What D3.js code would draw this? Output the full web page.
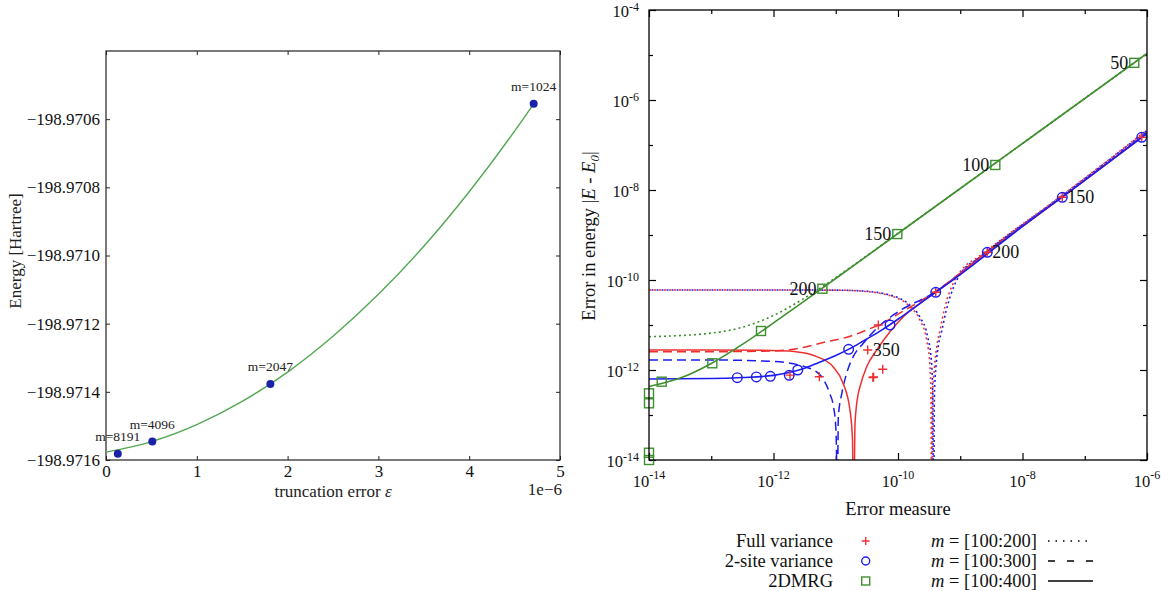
<!DOCTYPE html>
<html><head><meta charset="utf-8">
<script src="https://cdn.jsdelivr.net/npm/d3@7"></script>
<style>
html,body{margin:0;padding:0;background:#fff;}
svg{display:block;font-family:"Liberation Serif","Times New Roman",serif;}
</style></head><body>
<svg id="chart" width="1176" height="591"></svg>
<script>
// ================= LEFT PANEL DATA =================
const leftPointLabels = ["m=8191", "m=4096", "m=2047", "m=1024"];
const leftTruncError  = [0.13e-6, 0.51e-6, 1.81e-6, 4.71e-6];
const leftEnergy      = [-198.971582, -198.971546, -198.971377, -198.970555];
const leftFitTrunc    = [0, 0.5e-6, 1.0e-6, 1.5e-6, 2.0e-6, 2.5e-6, 3.0e-6, 3.5e-6, 4.0e-6, 4.5e-6, 4.71e-6];
const leftFitEnergy   = [-198.971577, -198.971546, -198.971496, -198.971428, -198.971342, -198.971237,
                         -198.971114, -198.970973, -198.970813, -198.970635, -198.970555];
const leftXTicks      = [0, 1e-6, 2e-6, 3e-6, 4e-6, 5e-6];
const leftXTickLabels = ["0", "1", "2", "3", "4", "5"];
const leftYTicks      = [-198.9716, -198.9714, -198.9712, -198.9710, -198.9708, -198.9706];

// ================= RIGHT PANEL DATA =================
const rightXMajor = [1e-14, 1e-12, 1e-10, 1e-8, 1e-6];
const rightXMinor = [1e-13, 1e-11, 1e-9, 1e-7];
const rightXTickExponents = ["-14", "-12", "-10", "-8", "-6"];
const rightYMajor = [1e-14, 1e-12, 1e-10, 1e-8, 1e-6, 1e-4];
const rightYMinor = [1e-13, 1e-11, 1e-9, 1e-7, 1e-5];
const rightYTickExponents = ["-14", "-12", "-10", "-8", "-6", "-4"];

// Points: Full variance (+)
const fullVarX = [1.84e-12, 5.45e-12, 3.26e-11, 3.95e-11, 4.05e-11, 4.83e-11, 5.68e-11, 4.04e-10, 2.72e-9, 4.36e-8, 8.22e-7];
const fullVarY = [7.7e-13, 7.1e-13, 2.78e-12, 6.8e-13, 7.0e-13, 1.0e-11, 1.04e-12, 5.33e-11, 4.13e-10, 6.89e-9, 1.48e-7];
const fullVarLabels = ["", "", "350", "", "", "", "", "", "", "", ""];
// Points: 2-site variance (o)
const twoSiteX = [2.62e-13, 5.3e-13, 8.9e-13, 1.79e-12, 2.45e-12, 1.61e-11, 7.45e-11, 4.04e-10, 2.72e-9, 4.36e-8, 8.22e-7];
const twoSiteY = [6.75e-13, 7.0e-13, 7.24e-13, 7.62e-13, 1.0e-12, 2.88e-12, 1.0e-11, 5.33e-11, 4.13e-10, 6.89e-9, 1.48e-7];
const twoSiteLabels = ["", "", "", "", "", "", "", "", "200", "150", ""];
// Points: 2DMRG (squares)
const dmrgX = [1e-14, 1e-14, 1e-14, 1e-14, 1.6e-14, 1.04e-13, 6.3e-13, 6.1e-12, 9.75e-11, 3.66e-9, 6.25e-7];
const dmrgY = [3.03e-13, 1.82e-13, 1.45e-14, 1.0e-14, 5.5e-13, 1.41e-12, 7.36e-12, 6.4e-11, 1.05e-9, 3.6e-8, 6.7e-6];
const dmrgLabels = ["", "", "", "", "", "", "", "200", "150", "100", "50"];

// Fit curves  m = [100:200] (dotted)
const fullVar200X = [1e-14, 1e-12, 1e-11, 2.45e-11, 8.41e-11, 1.56e-10, 2.25e-10, 2.89e-10, 3.27e-10, 3.39e-10, 3.48e-10, 3.58e-10, 3.86e-10, 4.23e-10, 4.73e-10, 5.69e-10, 7.73e-10, 1.12e-9, 1.84e-9, 3.0e-9, 4.36e-8, 1e-6];
const fullVar200Y = [6.0e-11, 6.0e-11, 5.95e-11, 5.7e-11, 4.26e-11, 2.55e-11, 1.29e-11, 4.64e-12, 1.18e-12, 2.15e-13, 1e-16, 2.15e-13, 1.18e-12, 3.6e-12, 7.7e-12, 2.55e-11, 8.58e-11, 1.85e-10, 3.08e-10, 5.14e-10, 7.74e-9, 2.15e-7];
const twoSite200X = [1e-14, 1e-12, 1e-11, 2.45e-11, 8.41e-11, 1.56e-10, 2.25e-10, 3.0e-10, 3.45e-10, 3.62e-10, 3.72e-10, 3.84e-10, 4.1e-10, 4.45e-10, 5.0e-10, 6.0e-10, 8.0e-10, 1.15e-9, 1.9e-9, 3.0e-9, 4.36e-8, 1e-6];
const twoSite200Y = [6.0e-11, 6.0e-11, 5.95e-11, 5.75e-11, 4.4e-11, 2.75e-11, 1.5e-11, 5.5e-12, 1.5e-12, 2.5e-13, 1e-16, 2.5e-13, 1.3e-12, 3.5e-12, 7e-12, 2.2e-11, 7.5e-11, 1.75e-10, 2.95e-10, 4.9e-10, 7.5e-9, 2.1e-7];
const dmrg200X = [1e-14, 1e-13, 3.16e-13, 1e-12, 3.16e-12, 6.1e-12, 1e-11, 1e-10, 1e-9, 1e-8, 1e-7, 1e-6];
const dmrg200Y = [5.5e-12, 6.6e-12, 8.9e-12, 1.63e-11, 3.97e-11, 7.1e-11, 1.13e-10, 1.09e-9, 1.08e-8, 1.08e-7, 1.08e-6, 1.08e-5];
// Fit curves  m = [100:300] (dashed)
const fullVar300X = [1e-14, 1e-13, 1e-12, 2.08e-12, 7.16e-12, 1.5e-11, 3.14e-11, 5.81e-11, 9.53e-11, 4.04e-10, 2.72e-9, 4.36e-8, 1e-6];
const fullVar300Y = [2.55e-12, 2.55e-12, 2.65e-12, 2.9e-12, 4.26e-12, 5.33e-12, 7.74e-12, 1.12e-11, 1.67e-11, 5.6e-11, 4.3e-10, 7.1e-9, 1.9e-7];
const twoSite300X = [1e-14, 1e-13, 1e-12, 3.16e-12, 5.62e-12, 8e-12, 9.2e-12, 1e-11, 1.03e-11, 1.05e-11, 1.1e-11, 1.25e-11, 1.5e-11, 1.91e-11, 2.77e-11, 4.55e-11, 8.41e-11, 4.04e-10, 2.72e-9, 4.36e-8, 1e-6];
const twoSite300Y = [1.67e-12, 1.67e-12, 1.55e-12, 1.19e-12, 7.7e-13, 3.0e-13, 1.53e-13, 5.5e-14, 1.2e-14, 1e-16, 9.2e-14, 3.0e-13, 8.5e-13, 1.98e-12, 3.92e-12, 8.45e-12, 1.67e-11, 5.5e-11, 4.3e-10, 7.1e-9, 1.9e-7];
// Fit curves  m = [100:400] (solid)
const fullVar400X = [1e-14, 1e-13, 1e-12, 2e-12, 4.94e-12, 9.04e-12, 1.31e-11, 1.69e-11, 1.86e-11, 1.93e-11, 2.04e-11, 2.3e-11, 2.45e-11, 3.14e-11, 4.55e-11, 7.43e-11, 1.22e-10, 2.25e-10, 4.19e-10, 2.72e-9, 4.36e-8, 1e-6];
const fullVar400Y = [2.8e-12, 2.8e-12, 2.72e-12, 2.6e-12, 1.98e-12, 1.18e-12, 5.1e-13, 1.3e-13, 2.8e-14, 1e-16, 6.6e-14, 3.0e-13, 4.25e-13, 1.18e-12, 2.78e-12, 7.1e-12, 1.53e-11, 3.03e-11, 5.5e-11, 4.1e-10, 6.9e-9, 1.8e-7];
const twoSite400X = [1e-14, 1e-13, 3.16e-13, 1e-12, 1.78e-12, 3.16e-12, 5.62e-12, 1e-11, 1.78e-11, 3.16e-11, 5.62e-11, 1e-10, 3.16e-10, 1e-9, 1e-8, 1e-7, 1e-6];
const twoSite400Y = [6.3e-13, 6.45e-13, 6.8e-13, 7.6e-13, 8.8e-13, 1.1e-12, 1.5e-12, 2.1e-12, 3.1e-12, 4.9e-12, 7.9e-12, 1.34e-11, 4.2e-11, 1.32e-10, 1.55e-9, 1.64e-8, 1.8e-7];
const dmrg400X = [1e-14, 1.6e-14, 3.16e-14, 1e-13, 3.16e-13, 1e-12, 3.16e-12, 1e-11, 1e-10, 1e-9, 1e-8, 1e-7, 1e-6];
const dmrg400Y = [4.3e-13, 5.0e-13, 6.6e-13, 1.4e-12, 3.7e-12, 1.11e-11, 3.44e-11, 1.08e-10, 1.08e-9, 1.08e-8, 1.08e-7, 1.08e-6, 1.08e-5];

const legendSeries = ["Full variance", "2-site variance", "2DMRG"];
const legendRanges = ["[100:200]", "[100:300]", "[100:400]"];

// ================= STYLES =================
const RED = "#ee3030", BLUE = "#1c1cf0", GREEN = "#3f8f2f";
const DOT = "2,3", DASH = "9,5";

const svg = d3.select("#chart");

// ================= LEFT PANEL =================
const L = {x0: 106, x1: 560, y0: 51, y1: 460};
const xL = d3.scaleLinear().domain([0, 5e-6]).range([L.x0, L.x1]);
const yL = d3.scaleLinear().domain([-198.9716, -198.9704]).range([L.y1, L.y0]);
const gL = svg.append("g");
const axisCol = "#222";

function styleAxis(g) {
  g.select(".domain").remove();
  g.selectAll(".tick line").attr("stroke", axisCol).attr("stroke-width", 1);
  g.selectAll("text").attr("fill", "#111").style("font-family", '"Liberation Serif",serif');
}
gL.append("g").attr("transform", `translate(0,${L.y1})`)
  .call(d3.axisBottom(xL).tickValues(leftXTicks).tickSize(-4).tickPadding(5).tickFormat((d, i) => leftXTickLabels[i]))
  .call(styleAxis).call(g => g.selectAll("text").attr("font-size", 17));
gL.append("g").attr("transform", `translate(0,${L.y0})`)
  .call(d3.axisTop(xL).tickValues(leftXTicks).tickSize(-4).tickFormat(""))
  .call(styleAxis);
gL.append("g").attr("transform", `translate(${L.x0},0)`)
  .call(d3.axisLeft(yL).tickValues(leftYTicks).tickSize(-4).tickPadding(6).tickFormat(d3.format(".4f")))
  .call(styleAxis).call(g => g.selectAll("text").attr("font-size", 17));
gL.append("g").attr("transform", `translate(${L.x1},0)`)
  .call(d3.axisRight(yL).tickValues(leftYTicks).tickSize(-4).tickFormat(""))
  .call(styleAxis);
gL.append("rect").attr("x", L.x0).attr("y", L.y0).attr("width", L.x1 - L.x0).attr("height", L.y1 - L.y0)
  .attr("fill", "none").attr("stroke", axisCol).attr("stroke-width", 1.2);

const leftFit = leftFitTrunc.map((x, i) => [x, leftFitEnergy[i]]);
gL.append("path")
  .attr("d", d3.line().x(d => xL(d[0])).y(d => yL(d[1])).curve(d3.curveMonotoneX)(leftFit))
  .attr("fill", "none").attr("stroke", "#52a852").attr("stroke-width", 1.4);

const leftPts = leftTruncError.map((x, i) => ({x, y: leftEnergy[i], label: leftPointLabels[i]}));
gL.selectAll("circle.lp").data(leftPts).join("circle").attr("class", "lp")
  .attr("cx", d => xL(d.x)).attr("cy", d => yL(d.y)).attr("r", 4).attr("fill", "#1a22a8");
gL.selectAll("text.lpl").data(leftPts).join("text").attr("class", "lpl")
  .attr("x", d => xL(d.x)).attr("y", d => yL(d.y) - 13).attr("text-anchor", "middle")
  .attr("font-size", 13.5).attr("fill", "#222").text(d => d.label);

gL.append("text").attr("x", (L.x0 + L.x1) / 2).attr("y", 497).attr("text-anchor", "middle")
  .attr("font-size", 17).attr("fill", "#222")
  .call(t => { t.append("tspan").text("truncation error "); t.append("tspan").attr("font-style", "italic").text("ε"); });
gL.append("text").attr("x", 562).attr("y", 495).attr("text-anchor", "end").attr("font-size", 17).attr("fill", "#222").text("1e\u22126");
gL.append("text").attr("transform", "translate(21,251) rotate(-90)").attr("text-anchor", "middle")
  .attr("font-size", 17).attr("fill", "#222").text("Energy [Hartree]");

// ================= RIGHT PANEL =================
const R = {x0: 649, x1: 1147, y0: 10, y1: 460};
const xR = d3.scaleLog().domain([1e-14, 1e-6]).range([R.x0, R.x1]);
const yR = d3.scaleLog().domain([1e-14, 1e-4]).range([R.y1, R.y0]);
const gR = svg.append("g");

svg.append("defs").append("clipPath").attr("id", "clipR").append("rect")
  .attr("x", R.x0).attr("y", R.y0).attr("width", R.x1 - R.x0).attr("height", R.y1 - R.y0);

function rAxis(axisFn, scale, vals, size, tr) {
  gR.append("g").attr("transform", tr).call(axisFn(scale).tickValues(vals).tickSize(-size).tickFormat(""))
    .call(g => { g.select(".domain").remove(); g.selectAll(".tick line").attr("stroke", "#000").attr("stroke-width", 1.2); });
}
rAxis(d3.axisBottom, xR, rightXMajor, 7, `translate(0,${R.y1})`);
rAxis(d3.axisBottom, xR, rightXMinor, 4, `translate(0,${R.y1})`);
rAxis(d3.axisTop, xR, rightXMajor, 7, `translate(0,${R.y0})`);
rAxis(d3.axisTop, xR, rightXMinor, 4, `translate(0,${R.y0})`);
rAxis(d3.axisLeft, yR, rightYMajor, 7, `translate(${R.x0},0)`);
rAxis(d3.axisLeft, yR, rightYMinor, 4, `translate(${R.x0},0)`);
rAxis(d3.axisRight, yR, rightYMajor, 7, `translate(${R.x1},0)`);
rAxis(d3.axisRight, yR, rightYMinor, 4, `translate(${R.x1},0)`);

// tick labels with superscripts
rightXMajor.forEach((v, i) => {
  const t = gR.append("text").attr("x", xR(v)).attr("y", 486.5).attr("text-anchor", "middle").attr("font-size", 16.5).attr("fill", "#111");
  t.append("tspan").text("10");
  t.append("tspan").attr("dy", -7.5).attr("font-size", 12).text(rightXTickExponents[i]);
});
rightYMajor.forEach((v, i) => {
  const t = gR.append("text").attr("x", 639).attr("y", yR(v) + 7).attr("text-anchor", "end").attr("font-size", 16.5).attr("fill", "#111");
  t.append("tspan").text("10");
  t.append("tspan").attr("dy", -6.5).attr("font-size", 12).text(rightYTickExponents[i]);
});

// curves
const gLines = gR.append("g").attr("clip-path", "url(#clipR)");
const lineGen = d3.line().x(d => xR(d[0])).y(d => yR(d[1])).curve(d3.curveMonotoneX);
function drawCurve(xs, ys, color, dash, w, off) {
  gLines.append("path").attr("d", lineGen(xs.map((x, i) => [x, ys[i]])))
    .attr("fill", "none").attr("stroke", color).attr("stroke-width", w)
    .attr("stroke-dasharray", dash).attr("stroke-dashoffset", off || 0);
}
drawCurve(fullVar200X, fullVar200Y, RED, DOT, 1.6, 0);
drawCurve(twoSite200X, twoSite200Y, BLUE, DOT, 1.6, 2.5);
drawCurve(dmrg200X, dmrg200Y, GREEN, DOT, 1.6, 0);
drawCurve(fullVar300X, fullVar300Y, RED, DASH, 1.5, 0);
drawCurve(twoSite300X, twoSite300Y, BLUE, DASH, 1.5, 0);
drawCurve(fullVar400X, fullVar400Y, RED, null, 1.5, 0);
drawCurve(twoSite400X, twoSite400Y, BLUE, null, 1.6, 0);
drawCurve(dmrg400X, dmrg400Y, GREEN, null, 1.6, 0);

// markers
const fullPts = fullVarX.map((x, i) => ({x, y: fullVarY[i], label: fullVarLabels[i]}));
const twoPts = twoSiteX.map((x, i) => ({x, y: twoSiteY[i], label: twoSiteLabels[i]}));
const dmrgPts = dmrgX.map((x, i) => ({x, y: dmrgY[i], label: dmrgLabels[i]}));
const plusPath = (cx, cy, s) => `M${cx - s},${cy}H${cx + s}M${cx},${cy - s}V${cy + s}`;

gR.selectAll("path.plus").data(fullPts).join("path").attr("class", "plus")
  .attr("d", d => plusPath(xR(d.x), yR(d.y), 4.5)).attr("stroke", RED).attr("stroke-width", 1.4).attr("fill", "none");
gR.selectAll("circle.o").data(twoPts).join("circle").attr("class", "o")
  .attr("cx", d => xR(d.x)).attr("cy", d => yR(d.y)).attr("r", 4.8)
  .attr("stroke", BLUE).attr("stroke-width", 1.4).attr("fill", "none");
gR.selectAll("rect.sq").data(dmrgPts).join("rect").attr("class", "sq")
  .attr("x", d => xR(d.x) - 4.5).attr("y", d => yR(d.y) - 4.5).attr("width", 9).attr("height", 9)
  .attr("stroke", GREEN).attr("stroke-width", 1.4).attr("fill", "none");

// point labels
gR.selectAll("text.dl").data(dmrgPts.filter(d => d.label)).join("text").attr("class", "dl")
  .attr("x", d => xR(d.x) - 6).attr("y", d => yR(d.y) + 6).attr("text-anchor", "end")
  .attr("font-size", 18).attr("fill", "#111").text(d => d.label);
gR.selectAll("text.tl").data(twoPts.filter(d => d.label).concat(fullPts.filter(d => d.label))).join("text").attr("class", "tl")
  .attr("x", d => xR(d.x) + 5).attr("y", d => yR(d.y) + 6).attr("text-anchor", "start")
  .attr("font-size", 18).attr("fill", "#111").text(d => d.label);

// frame
gR.append("rect").attr("x", R.x0).attr("y", R.y0).attr("width", R.x1 - R.x0).attr("height", R.y1 - R.y0)
  .attr("fill", "none").attr("stroke", "#000").attr("stroke-width", 1.3);

// axis titles
gR.append("text").attr("x", (R.x0 + R.x1) / 2).attr("y", 515).attr("text-anchor", "middle")
  .attr("font-size", 18.5).attr("fill", "#111").text("Error measure");
gR.append("text").attr("transform", "translate(595,236) rotate(-90)").attr("text-anchor", "middle")
  .attr("font-size", 18.5).attr("fill", "#111")
  .call(t => {
    t.append("tspan").text("Error in energy |");
    t.append("tspan").attr("font-style", "italic").text("E");
    t.append("tspan").text(" - ");
    t.append("tspan").attr("font-style", "italic").text("E");
    t.append("tspan").attr("font-style", "italic").attr("font-size", 13).attr("dy", 4).text("0");
    t.append("tspan").attr("dy", -4).text("|");
  });

// legend
const legY = [541, 561, 581];
legendSeries.forEach((s, i) => {
  gR.append("text").attr("x", 833).attr("y", legY[i] + 6).attr("text-anchor", "end")
    .attr("font-size", 18.5).attr("fill", "#111").text(s);
});
gR.append("path").attr("d", plusPath(865.7, legY[0], 4)).attr("stroke", RED).attr("stroke-width", 1.4);
gR.append("circle").attr("cx", 865.7).attr("cy", legY[1]).attr("r", 4).attr("stroke", BLUE).attr("stroke-width", 1.4).attr("fill", "none");
gR.append("rect").attr("x", 861.7).attr("y", legY[2] - 4).attr("width", 8).attr("height", 8).attr("stroke", GREEN).attr("stroke-width", 1.4).attr("fill", "none");
const legDash = ["1.5,6", "7,12", null];
legendRanges.forEach((r, i) => {
  const t = gR.append("text").attr("x", 1037).attr("y", legY[i] + 6).attr("text-anchor", "end")
    .attr("font-size", 18.5).attr("fill", "#111");
  t.append("tspan").attr("font-style", "italic").text("m");
  t.append("tspan").text(" = " + r);
  gR.append("line").attr("x1", 1048).attr("x2", 1093).attr("y1", legY[i]).attr("y2", legY[i])
    .attr("stroke", "#000").attr("stroke-width", 1.4).attr("stroke-dasharray", legDash[i]);
});
</script>
</body></html>
